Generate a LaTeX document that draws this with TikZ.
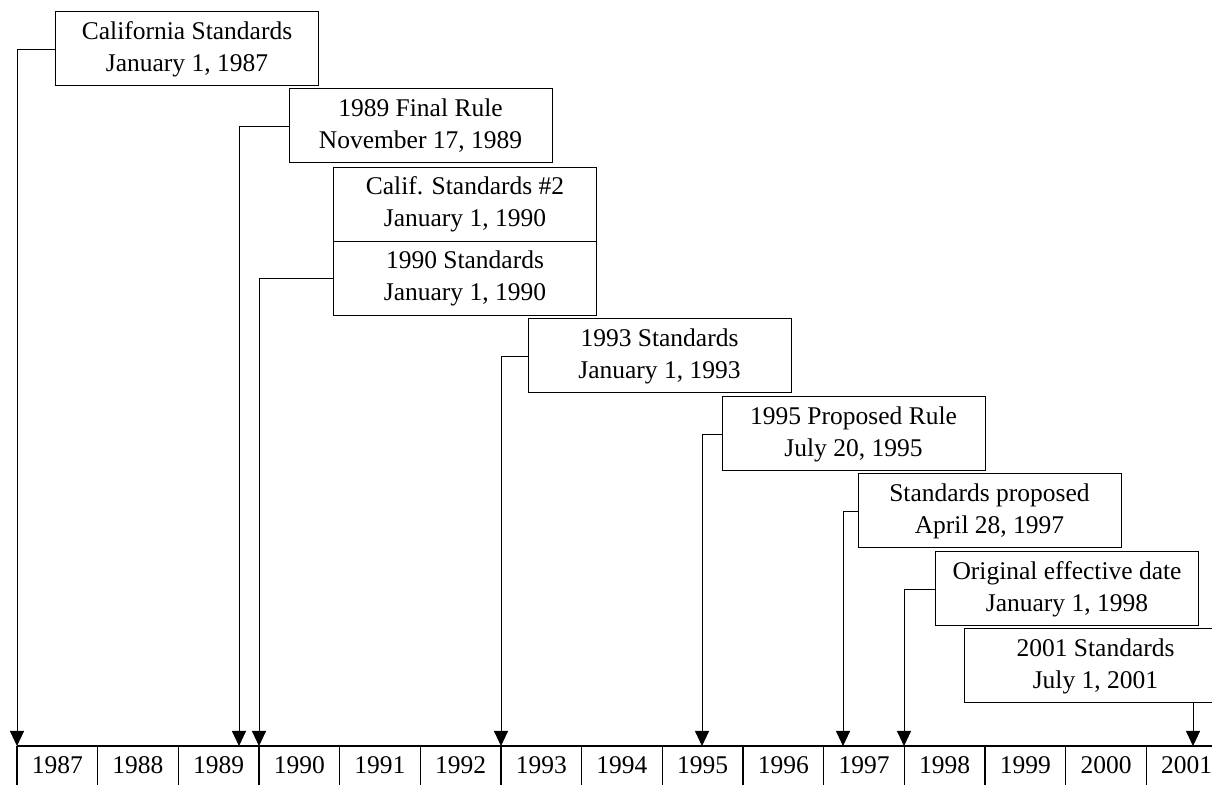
\documentclass[tikz,border=0pt]{standalone}
\usepackage{fontspec}
\setmainfont{Liberation Serif}
\usetikzlibrary{arrows.meta}
\newcommand{\yearline}{\draw[line width=1.2pt]}
\tikzset{
  eventbox/.style={draw, line width=1pt, minimum width=263pt, minimum height=74pt,
    inner sep=0pt, align=center, font=\fontsize{25.5}{32}\selectfont},
  yearlabel/.style={inner sep=0pt, font=\fontsize{25.5}{32}\selectfont},
  pointer/.style={line width=0.9pt, -{Triangle[length=15pt,width=14pt]}}
}

\begin{document}
\begin{tikzpicture}[x=1pt,y=1pt]
\clip (0,0) rectangle (1212,784);
% year strip
\yearline (17,38) -- (1230,38);
\foreach \i in {0,...,15}{
  \yearline (17+80.67*\i,38) -- ++(0,-42);
}
\foreach \yr [count=\i from 0] in {1987,...,2001}{
  \node[yearlabel] (y\yr) at (57.3+80.67*\i,19) {\yr};
}
% where the pointers land
\coordinate (t87) at (17,38);
\coordinate (t89) at (239,38);
\coordinate (t90) at (259,38);
\coordinate (t93) at (501,38);
\coordinate (t95) at (702,38);
\coordinate (t97) at (843,38);
\coordinate (t98) at (904,38);
\coordinate (t01) at (1193,38);
% events
\node[eventbox] (calif87) at (187,735) {California Standards\\January 1, 1987};
\node[eventbox] (rule89) at (420.5,658) {1989 Final Rule\\November 17, 1989};
\node[eventbox] (calif90) at (465,579.5) {Calif. Standards \#2\\January 1, 1990};
\node[eventbox] (std90) at (465,505.5) {1990 Standards\\January 1, 1990};
\node[eventbox] (std93) at (659.5,428) {1993 Standards\\January 1, 1993};
\node[eventbox] (prop95) at (853.5,350) {1995 Proposed Rule\\July 20, 1995};
\node[eventbox] (prop97) at (989.5,273) {Standards proposed\\April 28, 1997};
\node[eventbox] (eff98) at (1067,195) {Original effective date\\January 1, 1998};
\node[eventbox] (std01) at (1095.5,118) {2001 Standards\\July 1, 2001};
% pointers
\draw[pointer] (calif87.west) -| (t87);
\draw[pointer] (rule89.west) -| (t89);
\draw[pointer] (std90.west) -| (t90);
\draw[pointer] (std93.west) -| (t93);
\draw[pointer] (prop95.west) -| (t95);
\draw[pointer] (prop97.west) -| (t97);
\draw[pointer] (eff98.west) -| (t98);
\draw[pointer] (std01.south -| t01) -- (t01);
\end{tikzpicture}
\end{document}
